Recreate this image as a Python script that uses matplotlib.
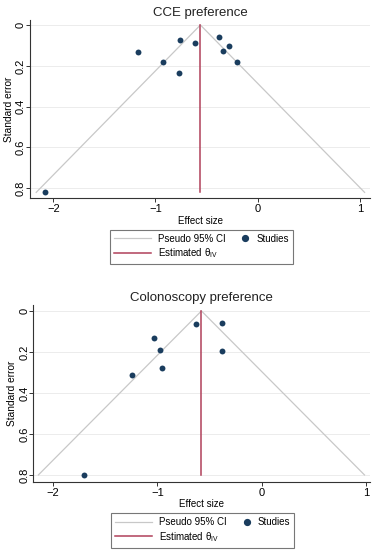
import matplotlib
matplotlib.use("Agg")
import matplotlib.pyplot as plt
from matplotlib.lines import Line2D
from matplotlib.legend_handler import HandlerBase

plt.rcParams['font.family'] = ['Liberation Sans', 'DejaVu Sans']
plt.rcParams['mathtext.fontset'] = 'custom'
plt.rcParams['mathtext.rm'] = 'Liberation Sans'
plt.rcParams['mathtext.it'] = 'Liberation Sans'

# CCE preference
cce_effect = [-1.17, -0.926, -0.763, -0.769, -0.61, -0.378, -0.284, -0.339, -0.199, -2.084]
cce_se = [0.131, 0.183, 0.075, 0.235, 0.090, 0.059, 0.101, 0.129, 0.181, 0.820]
cce_theta = -0.56

# Colonoscopy preference
col_effect = [-0.632, -0.375, -1.036, -0.978, -0.379, -0.959, -1.24, -1.706]
col_se = [0.065, 0.058, 0.131, 0.190, 0.196, 0.276, 0.313, 0.798]
col_theta = -0.577

titles = ["CCE preference", "Colonoscopy preference"]
xticks = [-2, -1, 0, 1]
yticks = [0, 0.2, 0.4, 0.6, 0.8]

W, H = 377, 550
fig = plt.figure(figsize=(W / 100, H / 100), dpi=100)

navy = '#1a3d5e'
red = '#b0405a'
gray = '#c8c8c8'
spine_c = '#333333'


class RightMarker(HandlerBase):
    def create_artists(self, legend, orig_handle, xdescent, ydescent,
                       width, height, fontsize, trans):
        ln = Line2D([width - xdescent - 3.0], [(height - ydescent) / 2],
                    marker='o', ls='none', color=orig_handle.get_color(),
                    markersize=orig_handle.get_markersize())
        ln.set_transform(trans)
        return [ln]


def panel(rect, eff, se, theta, title, xlim, ylim, leg_center):
    ax = fig.add_axes(rect)
    smax = max(se)
    ax.plot([theta - 1.96 * smax, theta, theta + 1.96 * smax], [smax, 0, smax],
            color=gray, lw=0.9, zorder=2)
    ax.plot([theta, theta], [0, smax], color=red, lw=1.1, zorder=3)
    ax.scatter(eff, se, s=18, color=navy, zorder=4, linewidths=0)
    ax.set_xlim(*xlim)
    ax.set_ylim(*ylim)
    ax.set_xticks(xticks)
    ax.set_xticklabels(['\u22122', '\u22121', '0', '1'])
    ax.set_yticks(yticks)
    ax.set_yticklabels(['0', '0.2', '0.4', '0.6', '0.8'], rotation=90, va='center')
    ax.yaxis.grid(True, color='#ececec', lw=0.7, zorder=0)
    ax.set_axisbelow(True)
    for s in ['top', 'right']:
        ax.spines[s].set_visible(False)
    for s in ['left', 'bottom']:
        ax.spines[s].set_color(spine_c)
        ax.spines[s].set_linewidth(0.8)
    ax.tick_params(labelsize=8, length=3, width=0.7, color=spine_c, pad=1.5)
    ax.tick_params(axis='y', pad=0)
    ax.set_xlabel('Effect size', fontsize=7, labelpad=1)
    ax.set_ylabel('Standard error', fontsize=7.3, labelpad=1.5)
    ax.set_title(title, fontsize=9.5, pad=3, color='#222222')
    h_ci = Line2D([], [], color=gray, lw=0.9)
    h_est = Line2D([], [], color=red, lw=1.1)
    h_st = Line2D([], [], marker='o', ls='none', color=navy, markersize=4.2)
    handles = [h_ci, h_est, h_st]
    labels = ['Pseudo 95% CI', r'Estimated $\theta_{\rm IV}$', 'Studies']
    leg = fig.legend(handles, labels, ncol=2, loc='center',
                     bbox_to_anchor=leg_center, fontsize=7, frameon=True,
                     fancybox=False, edgecolor='#555555', handlelength=3.8,
                     columnspacing=-1.3, handletextpad=0.7, borderpad=0.4,
                     labelspacing=0.3, borderaxespad=0,
                     handler_map={h_st: RightMarker()})
    leg.get_frame().set_linewidth(0.8)
    return ax

panel([30 / W, (H - 198) / H, 340 / W, 178 / H], cce_effect, cce_se, cce_theta,
      titles[0], (-2.228, 1.10), (0.8475, -0.0245), (201.3 / W, 1 - 246.9 / H))
panel([33.3 / W, (H - 481.7) / H, 336.7 / W, 176.7 / H], col_effect, col_se, col_theta,
      titles[1], (-2.19, 1.04), (0.831, -0.029), (202.5 / W, 1 - 530.3 / H))

fig.savefig('out.png', dpi=100)
